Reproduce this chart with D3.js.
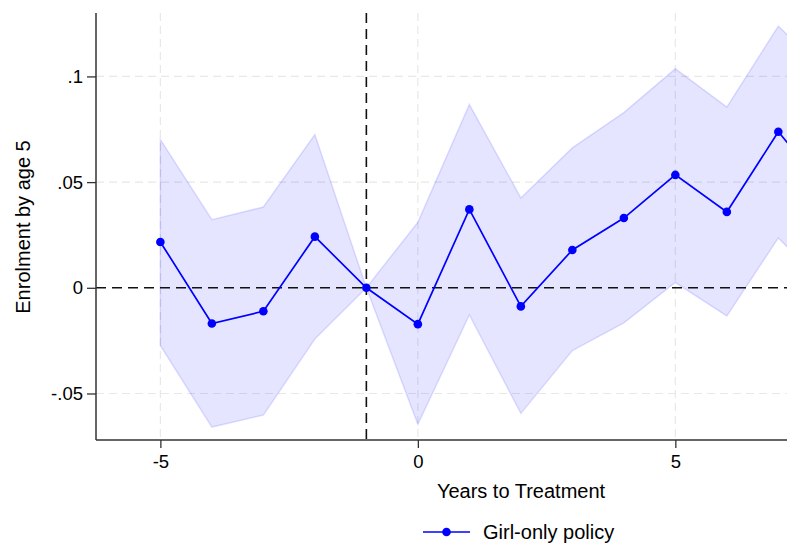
<!DOCTYPE html>
<html>
<head>
<meta charset="utf-8">
<script src="https://cdn.jsdelivr.net/npm/d3@7"></script>
<style>
  body { margin: 0; background: #fff; }
  svg { display: block; font-family: "Liberation Sans", Arial, sans-serif; }
</style>
</head>
<body>
<script>
var w = 787;
var h = 543;

// event-study estimates
var years = [-5, -4, -3, -2, -1, 0, 1, 2, 3, 4, 5, 6, 7, 8];
var coef  = [0.0217, -0.0169, -0.0111, 0.0242, 0, -0.0172, 0.0371, -0.0088, 0.0179, 0.0330, 0.0534, 0.0359, 0.0738, 0.0445];
var upper = [0.0701, 0.0322, 0.0382, 0.0725, 0, 0.0310, 0.0867, 0.0425, 0.0662, 0.0829, 0.1036, 0.0855, 0.1238, 0.1000];
var lower = [-0.0273, -0.0659, -0.0602, -0.0242, 0, -0.0646, -0.0128, -0.0594, -0.0297, -0.0166, 0.0025, -0.0133, 0.0236, -0.0010];

var xTicks = [-5, 0, 5];
var xTickLabels = ["-5", "0", "5"];
var yTicks = [-0.05, 0, 0.05, 0.1];
var yTickLabels = ["-.05", "0", ".05", ".1"];
var refYear = -1;
var seriesName = "Girl-only policy";

var svg = d3.select("body")
    .append("svg")
    .attr("width", w)
    .attr("height", h);

var xScale = d3.scaleLinear()
    .domain([-6.25, 7.18])
    .range([96, 787.6]);

var yScale = d3.scaleLinear()
    .domain([-0.072, 0.13])
    .range([440, 13]);

var data = years.map(function(d, i) {
    return {x: d, b: coef[i], hi: upper[i], lo: lower[i]};
});

// grid
svg.append("g").selectAll("line")
    .data(yTicks.filter(function(d) { return d !== 0; }))
    .enter()
    .append("line")
    .attr("x1", xScale.range()[0])
    .attr("x2", w)
    .attr("y1", function(d) { return yScale(d); })
    .attr("y2", function(d) { return yScale(d); })
    .style("stroke", "#e8e8e8")
    .style("stroke-width", 1.2)
    .style("stroke-dasharray", "8,5");

svg.append("g").selectAll("line")
    .data(xTicks)
    .enter()
    .append("line")
    .attr("x1", function(d) { return xScale(d); })
    .attr("x2", function(d) { return xScale(d); })
    .attr("y1", yScale.range()[1])
    .attr("y2", yScale.range()[0])
    .style("stroke", "#e8e8e8")
    .style("stroke-width", 1.2)
    .style("stroke-dasharray", "8,5");

// confidence band
var area = d3.area()
    .x(function(d) { return xScale(d.x); })
    .y0(function(d) { return yScale(d.lo); })
    .y1(function(d) { return yScale(d.hi); });

svg.append("path")
    .datum(data)
    .attr("d", area)
    .style("fill", "#0000ff")
    .style("fill-opacity", 0.1)
    .style("stroke", "#0000ff")
    .style("stroke-opacity", 0.12)
    .style("stroke-width", 1.5);

// reference lines
svg.append("line")
    .attr("x1", xScale.range()[0])
    .attr("x2", w)
    .attr("y1", yScale(0))
    .attr("y2", yScale(0))
    .style("stroke", "#111")
    .style("stroke-width", 1.6)
    .style("stroke-dasharray", "10,6");

svg.append("line")
    .attr("x1", xScale(refYear))
    .attr("x2", xScale(refYear))
    .attr("y1", yScale.range()[1])
    .attr("y2", yScale.range()[0])
    .style("stroke", "#111")
    .style("stroke-width", 1.6)
    .style("stroke-dasharray", "10,6");

// axes
var xAxis = svg.append("g")
    .attr("transform", "translate(0," + yScale.range()[0] + ")")
    .call(d3.axisBottom(xScale).tickValues(xTicks).tickSize(8).tickPadding(7)
        .tickFormat(function(d, i) { return xTickLabels[i]; }));

var yAxis = svg.append("g")
    .attr("transform", "translate(" + xScale.range()[0] + ",0)")
    .call(d3.axisLeft(yScale).tickValues(yTicks).tickSize(9).tickPadding(4)
        .tickFormat(function(d, i) { return yTickLabels[i]; }));

[xAxis, yAxis].forEach(function(ax) {
    ax.select(".domain").style("stroke", "#333").style("stroke-width", 1.5);
    ax.selectAll(".tick line").style("stroke", "#333").style("stroke-width", 1.3);
    ax.selectAll(".tick text")
        .style("font-family", "Liberation Sans, Arial, sans-serif")
        .style("font-size", "18.5px")
        .style("fill", "#000");
});
xAxis.select(".domain").attr("d", "M" + xScale.range()[0] + ",0H" + w);
yAxis.select(".domain").attr("d", "M0," + yScale.range()[0] + "V" + yScale.range()[1]);

// series
var line = d3.line()
    .x(function(d) { return xScale(d.x); })
    .y(function(d) { return yScale(d.b); });

svg.append("path")
    .datum(data)
    .attr("d", line)
    .style("fill", "none")
    .style("stroke", "#0000ff")
    .style("stroke-width", 1.7);

svg.append("g").selectAll("circle")
    .data(data)
    .enter()
    .append("circle")
    .attr("cx", function(d) { return xScale(d.x); })
    .attr("cy", function(d) { return yScale(d.b); })
    .attr("r", 4.3)
    .style("fill", "#0000ff");

// titles
svg.append("text")
    .attr("x", 521)
    .attr("y", 498)
    .attr("text-anchor", "middle")
    .style("font-size", "20px")
    .text("Years to Treatment");

svg.append("text")
    .attr("transform", "translate(30,227) rotate(-90)")
    .attr("text-anchor", "middle")
    .style("font-size", "20px")
    .text("Enrolment by age 5");

// legend
var legend = svg.append("g")
    .attr("transform", "translate(423,532)");

legend.append("line")
    .attr("x1", 0)
    .attr("x2", 47)
    .style("stroke", "#0000ff")
    .style("stroke-width", 1.7);

legend.append("circle")
    .attr("cx", 23.5)
    .attr("r", 4.3)
    .style("fill", "#0000ff");

legend.append("text")
    .attr("x", 60)
    .attr("y", 7)
    .style("font-size", "20px")
    .text(seriesName);
</script>
</body>
</html>
